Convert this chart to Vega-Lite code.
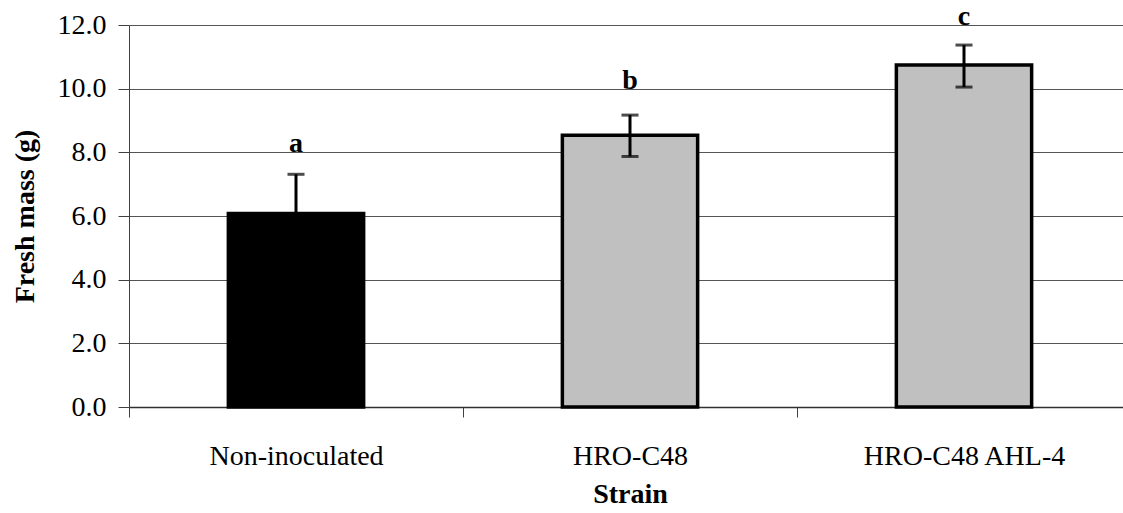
{
  "$schema": "https://vega.github.io/schema/vega-lite/v6.json",
  "width": 994,
  "height": 382,
  "autosize": {"type": "none"},
  "padding": {"left": 129, "top": 25, "right": 0, "bottom": 106},
  "config": {"view": {"stroke": null}, "font": "Liberation Serif"},
  "data": {
    "values": [
      {"strain": "Non-inoculated", "mean": 6.08, "lo": 4.85, "hi": 7.31, "letter": "a", "ly": 8.0},
      {"strain": "HRO-C48", "mean": 8.54, "lo": 7.87, "hi": 9.17, "letter": "b", "ly": 10.0},
      {"strain": "HRO-C48 AHL-4", "mean": 10.74, "lo": 10.05, "hi": 11.37, "letter": "c", "ly": 12.0}
    ]
  },
  "encoding": {
    "x": {
      "field": "strain",
      "type": "nominal",
      "sort": null,
      "scale": {"range": [0, 1002], "paddingInner": 0, "paddingOuter": 0},
      "axis": {
        "title": "Strain",
        "titleFontSize": 28,
        "titleFontWeight": "bold",
        "titleColor": "black",
        "labelFontSize": 28,
        "labelColor": "black",
        "labelAngle": 0,
        "labelLimit": 0,
        "tickBand": "extent",
        "tickSize": 10,
        "tickColor": "#404040",
        "domainColor": "#303030",
        "domainWidth": 1.5,
        "labelPadding": 25,
        "titlePadding": 10,
        "grid": false
      }
    }
  },
  "layer": [
    {
      "mark": {"type": "bar", "width": {"band": 0.405}, "stroke": "black", "strokeWidth": 3.5},
      "encoding": {
        "y": {
          "field": "mean",
          "type": "quantitative",
          "title": "Fresh mass (g)",
          "scale": {"domain": [0, 12]},
          "axis": {
            "values": [0, 2, 4, 6, 8, 10, 12],
            "format": ".1f",
            "labelFontSize": 28,
            "labelColor": "black",
            "tickSize": 11,
            "tickColor": "#404040",
            "domainColor": "#404040",
            "gridColor": "#555555",
            "labelPadding": 12,
            "titlePadding": 18,
            "titleFontSize": 28,
            "titleFontWeight": "bold",
            "titleColor": "black"
          }
        },
        "fill": {
          "field": "strain",
          "type": "nominal",
          "scale": {"domain": ["Non-inoculated", "HRO-C48", "HRO-C48 AHL-4"], "range": ["#000000", "#C0C0C0", "#C0C0C0"]},
          "legend": null
        }
      }
    },
    {
      "mark": {"type": "rule", "color": "black", "strokeWidth": 3},
      "encoding": {
        "y": {"field": "lo", "type": "quantitative", "title": "Fresh mass (g)"},
        "y2": {"field": "hi"}
      }
    },
    {
      "mark": {"type": "tick", "color": "black", "size": 17, "thickness": 3},
      "encoding": {
        "y": {"field": "lo", "type": "quantitative", "title": "Fresh mass (g)"}
      }
    },
    {
      "mark": {"type": "tick", "color": "black", "size": 17, "thickness": 3},
      "encoding": {
        "y": {"field": "hi", "type": "quantitative", "title": "Fresh mass (g)"}
      }
    },
    {
      "mark": {"type": "text", "fontSize": 28, "fontWeight": "bold", "baseline": "alphabetic", "color": "black"},
      "encoding": {
        "y": {"field": "ly", "type": "quantitative", "title": "Fresh mass (g)"},
        "text": {"field": "letter"}
      }
    }
  ]
}
